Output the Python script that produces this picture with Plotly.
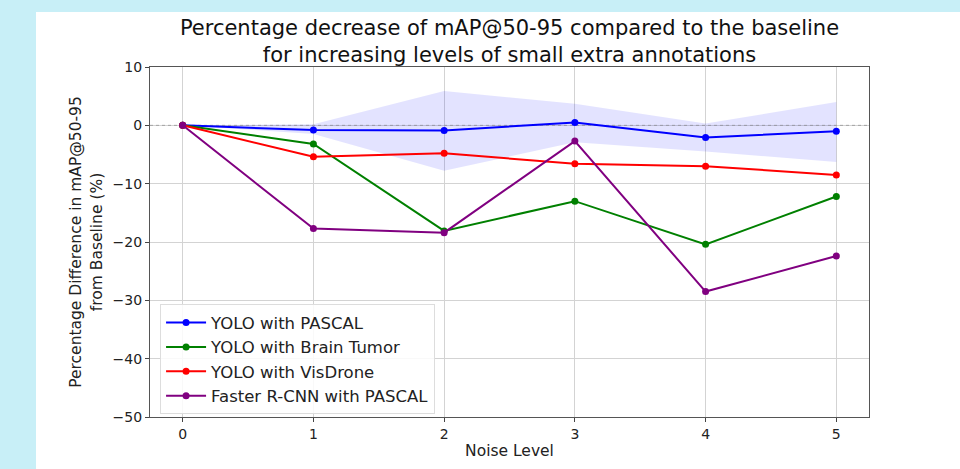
import plotly.graph_objects as go

noise = [0, 1, 2, 3, 4, 5]
yolo_pascal = [0, -0.8, -0.9, 0.5, -2.1, -1.0]
yolo_brain = [0, -3.2, -18.1, -13.0, -20.4, -12.2]
yolo_visdrone = [0, -5.4, -4.8, -6.6, -7.0, -8.5]
frcnn_pascal = [0, -17.7, -18.4, -2.7, -28.5, -22.4]
band_upper = [0, 0.2, 5.9, 3.7, 0.3, 4.0]
band_lower = [0, -1.5, -7.8, -2.9, -4.5, -6.3]

x_ticks = [0, 1, 2, 3, 4, 5]
y_ticks = [10, 0, -10, -20, -30, -40, -50]
y_tick_text = ["10", "0", "\u221210", "\u221220", "\u221230", "\u221240", "\u221250"]

font = "DejaVu Sans"
cyan = "#c8eff7"
fig = go.Figure()

fig.add_trace(go.Scatter(x=noise, y=band_upper, mode="lines", line=dict(width=0),
                         showlegend=False, hoverinfo="skip"))
fig.add_trace(go.Scatter(x=noise, y=band_lower, mode="lines", line=dict(width=0),
                         fill="tonexty", fillcolor="rgba(0,0,255,0.11)",
                         showlegend=False, hoverinfo="skip"))

# dotted zero line
fig.add_trace(go.Scatter(x=[-0.25, 5.25], y=[0, 0], mode="lines",
                         line=dict(color="rgba(128,128,128,0.6)", width=1, dash="dot"),
                         showlegend=False, hoverinfo="skip"))

series = [
    ("YOLO with PASCAL", yolo_pascal, "#0000ff"),
    ("YOLO with Brain Tumor", yolo_brain, "#008000"),
    ("YOLO with VisDrone", yolo_visdrone, "#ff0000"),
    ("Faster R-CNN with PASCAL", frcnn_pascal, "#800080"),
]
for name, vals, col in series:
    fig.add_trace(go.Scatter(x=noise, y=vals, mode="lines+markers", name=name,
                             line=dict(color=col, width=2),
                             marker=dict(color=col, size=7)))

fig.update_layout(
    width=960, height=469,
    paper_bgcolor="white",
    plot_bgcolor="white",
    margin=dict(l=150, r=91, t=67, b=46),
    font=dict(family=font, size=14, color="#222"),
    title=dict(text="Percentage decrease of mAP@50-95 compared to the baseline<br>for increasing levels of small extra annotations",
               x=(509.5) / 960, xanchor="center", y=1 - 35 / 469, yanchor="middle",
               font=dict(family=font, size=21, color="#111")),
    xaxis=dict(range=[-0.25, 5.25], tickvals=x_ticks, ticks="outside", ticklen=4,
               showgrid=True, gridcolor="#d3d3d3", gridwidth=1,
               showline=True, linecolor="#555", linewidth=1.2, mirror=True,
               zeroline=False,
               title=dict(text="Noise Level", font=dict(size=15.5), standoff=4)),
    yaxis=dict(range=[-50, 10], tickvals=y_ticks, ticktext=y_tick_text, ticks="outside", ticklen=4,
               showgrid=True, gridcolor="#d3d3d3", gridwidth=1,
               showline=True, linecolor="#555", linewidth=1.2, mirror=True,
               zeroline=False,
               title=dict(text="Percentage Difference in mAP@50-95<br>from Baseline (%)",
                          font=dict(size=15.5), standoff=6)),
    legend=dict(x=0.014, y=0.008, xanchor="left", yanchor="bottom", traceorder="normal",
                bgcolor="rgba(255,255,255,0.85)", bordercolor="#ddd", borderwidth=1,
                font=dict(size=16.5, color="#222"), tracegroupgap=0, itemsizing="trace",
                itemwidth=40),
    shapes=[
        dict(type="rect", xref="paper", yref="paper", layer="below",
             x0=-1, x1=2, y0=(423 - 11) / 356, y1=2,
             fillcolor=cyan, line=dict(width=0)),
        dict(type="rect", xref="paper", yref="paper", layer="below",
             x0=-1, x1=(36 - 150) / 719, y0=-1, y1=2,
             fillcolor=cyan, line=dict(width=0)),
    ],
)

fig.write_html("out.html")
